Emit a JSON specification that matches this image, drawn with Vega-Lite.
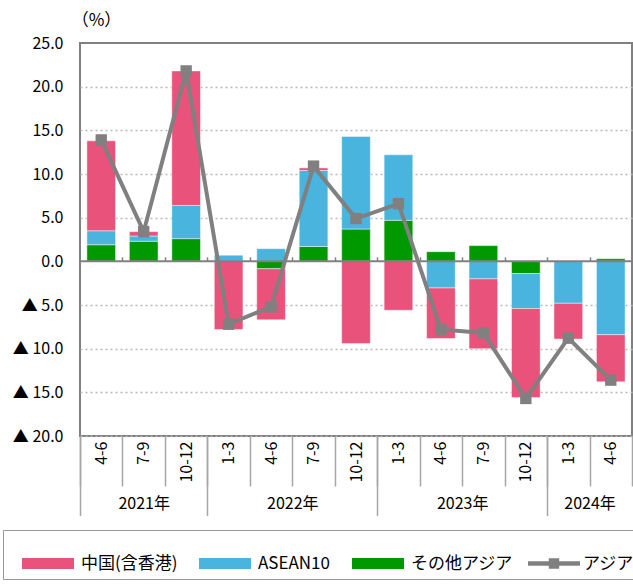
{
  "$schema": "https://vega.github.io/schema/vega-lite/v6.json",
  "width": 552,
  "height": 393,
  "autosize": {"type": "none"},
  "padding": {"left": 80, "top": 43, "right": 1, "bottom": 149},
  "config": {
    "font": "Noto Sans CJK JP",
    "view": {"stroke": "#808080", "strokeWidth": 2},
    "axis": {"labelFont": "Noto Sans CJK JP", "labelFontSize": 16, "labelColor": "#000000", "titleFont": "Noto Sans CJK JP"},
    "legend": {"labelFont": "Noto Sans CJK JP"},
    "point": {"shape": "square"}
  },
  "datasets": {
    "bars": [
      {"q": "2021|4-6", "series": "その他アジア", "ord": 1, "v": 1.9},
      {"q": "2021|4-6", "series": "ASEAN10", "ord": 2, "v": 1.6},
      {"q": "2021|4-6", "series": "中国(含香港)", "ord": 3, "v": 10.3},
      {"q": "2021|7-9", "series": "その他アジア", "ord": 1, "v": 2.3},
      {"q": "2021|7-9", "series": "ASEAN10", "ord": 2, "v": 0.6},
      {"q": "2021|7-9", "series": "中国(含香港)", "ord": 3, "v": 0.5},
      {"q": "2021|10-12", "series": "その他アジア", "ord": 1, "v": 2.6},
      {"q": "2021|10-12", "series": "ASEAN10", "ord": 2, "v": 3.8},
      {"q": "2021|10-12", "series": "中国(含香港)", "ord": 3, "v": 15.4},
      {"q": "2022|1-3", "series": "その他アジア", "ord": 1, "v": 0.0},
      {"q": "2022|1-3", "series": "ASEAN10", "ord": 2, "v": 0.7},
      {"q": "2022|1-3", "series": "中国(含香港)", "ord": 3, "v": -7.8},
      {"q": "2022|4-6", "series": "その他アジア", "ord": 1, "v": -0.85},
      {"q": "2022|4-6", "series": "ASEAN10", "ord": 2, "v": 1.45},
      {"q": "2022|4-6", "series": "中国(含香港)", "ord": 3, "v": -5.85},
      {"q": "2022|7-9", "series": "その他アジア", "ord": 1, "v": 1.7},
      {"q": "2022|7-9", "series": "ASEAN10", "ord": 2, "v": 8.7},
      {"q": "2022|7-9", "series": "中国(含香港)", "ord": 3, "v": 0.3},
      {"q": "2022|10-12", "series": "その他アジア", "ord": 1, "v": 3.7},
      {"q": "2022|10-12", "series": "ASEAN10", "ord": 2, "v": 10.6},
      {"q": "2022|10-12", "series": "中国(含香港)", "ord": 3, "v": -9.4},
      {"q": "2023|1-3", "series": "その他アジア", "ord": 1, "v": 4.7},
      {"q": "2023|1-3", "series": "ASEAN10", "ord": 2, "v": 7.5},
      {"q": "2023|1-3", "series": "中国(含香港)", "ord": 3, "v": -5.6},
      {"q": "2023|4-6", "series": "その他アジア", "ord": 1, "v": 1.1},
      {"q": "2023|4-6", "series": "ASEAN10", "ord": 2, "v": -3.05},
      {"q": "2023|4-6", "series": "中国(含香港)", "ord": 3, "v": -5.8},
      {"q": "2023|7-9", "series": "その他アジア", "ord": 1, "v": 1.8},
      {"q": "2023|7-9", "series": "ASEAN10", "ord": 2, "v": -2.0},
      {"q": "2023|7-9", "series": "中国(含香港)", "ord": 3, "v": -8.0},
      {"q": "2023|10-12", "series": "その他アジア", "ord": 1, "v": -1.4},
      {"q": "2023|10-12", "series": "ASEAN10", "ord": 2, "v": -4.0},
      {"q": "2023|10-12", "series": "中国(含香港)", "ord": 3, "v": -10.2},
      {"q": "2024|1-3", "series": "その他アジア", "ord": 1, "v": 0.0},
      {"q": "2024|1-3", "series": "ASEAN10", "ord": 2, "v": -4.8},
      {"q": "2024|1-3", "series": "中国(含香港)", "ord": 3, "v": -4.1},
      {"q": "2024|4-6", "series": "その他アジア", "ord": 1, "v": 0.3},
      {"q": "2024|4-6", "series": "ASEAN10", "ord": 2, "v": -8.4},
      {"q": "2024|4-6", "series": "中国(含香港)", "ord": 3, "v": -5.4}
    ],
    "line": [
      {"q": "2021|4-6", "v": 13.9, "s": "アジア"},
      {"q": "2021|7-9", "v": 3.4, "s": "アジア"},
      {"q": "2021|10-12", "v": 21.8, "s": "アジア"},
      {"q": "2022|1-3", "v": -7.2, "s": "アジア"},
      {"q": "2022|4-6", "v": -5.2, "s": "アジア"},
      {"q": "2022|7-9", "v": 10.9, "s": "アジア"},
      {"q": "2022|10-12", "v": 4.9, "s": "アジア"},
      {"q": "2023|1-3", "v": 6.6, "s": "アジア"},
      {"q": "2023|4-6", "v": -7.8, "s": "アジア"},
      {"q": "2023|7-9", "v": -8.2, "s": "アジア"},
      {"q": "2023|10-12", "v": -15.7, "s": "アジア"},
      {"q": "2024|1-3", "v": -8.8, "s": "アジア"},
      {"q": "2024|4-6", "v": -13.6, "s": "アジア"}
    ],
    "yearBounds": [{"b": 0}, {"b": 13}]
  },
  "layer": [
    {
      "layer": [
        {
          "data": {"name": "bars"},
          "mark": {"type": "bar", "width": {"band": 0.675}, "stroke": "white", "strokeWidth": 1, "strokeOpacity": 0.45},
          "encoding": {
            "x": {
              "field": "q",
              "type": "nominal",
              "scale": {
                "domain": ["2021|4-6", "2021|7-9", "2021|10-12", "2022|1-3", "2022|4-6", "2022|7-9", "2022|10-12", "2023|1-3", "2023|4-6", "2023|7-9", "2023|10-12", "2024|1-3", "2024|4-6"],
                "paddingInner": 0,
                "paddingOuter": 0
              },
              "axis": {
                "orient": "bottom",
                "title": null,
                "labelExpr": "split(datum.value, '|')[1]",
                "labelAngle": -90,
                "labelAlign": "right",
                "labelBaseline": "middle",
                "labelFontSize": 16,
                "labelPadding": -45,
                "tickBand": "extent",
                "tickSize": 50,
                "tickColor": "#a6a6a6",
                "tickWidth": 1.5,
                "domain": false,
                "grid": false
              }
            },
            "y": {
              "field": "v",
              "type": "quantitative",
              "stack": "zero",
              "scale": {"domain": [-20, 25], "nice": false},
              "axis": {
                "values": [-20, -15, -10, -5, 0, 5, 10, 15, 20, 25],
                "labelExpr": "datum.value < 0 ? '▲ ' + format(-datum.value, '.1f') : format(datum.value, '.1f')",
                "ticks": false,
                "domain": false,
                "labelPadding": 17,
                "labelFontSize": 16,
                "grid": true,
                "gridDash": [2, 3],
                "gridWidth": 1.5,
                "gridColor": {"condition": {"test": "datum.value == 0 || datum.value == 25", "value": "transparent"}, "value": "#b8b8b8"},
                "title": "（%）",
                "titleFont": "Noto Sans CJK JP",
                "titleAngle": 0,
                "titleX": 16,
                "titleY": -23,
                "titleFontSize": 17,
                "titleFontWeight": "normal",
                "titleAlign": "center",
                "titleBaseline": "middle",
                "titleColor": "#000000"
              }
            },
            "color": {
              "field": "series",
              "type": "nominal",
              "scale": {
                "domain": ["中国(含香港)", "ASEAN10", "その他アジア"],
                "range": ["#e8527b", "#49b4de", "#009900"]
              },
              "legend": {
                "orient": "none",
                "legendX": -77,
                "legendY": 490,
                "direction": "horizontal",
                "columns": 3,
                "title": null,
                "symbolType": "M-1,-0.21H1V0.21H-1Z",
                "symbolSize": 2704,
                "symbolOffset": 14.5,
                "labelOffset": 7,
                "labelFontSize": 17,
                "labelColor": "#000000",
                "columnPadding": 7,
                "padding": 4.5,
                "symbolStrokeWidth": 0,
                "symbolOpacity": 1
              }
            },
            "order": {"field": "ord", "type": "quantitative"}
          }
        },
        {
          "data": {"values": [{}]},
          "mark": {"type": "rule", "color": "#808080", "strokeWidth": 2},
          "encoding": {"y": {"datum": 0}}
        },
        {
          "data": {"name": "line"},
          "mark": {"type": "line", "strokeWidth": 4, "color": "#808080"},
          "encoding": {
            "x": {"field": "q", "type": "nominal"},
            "y": {"field": "v", "type": "quantitative"}
          }
        },
        {
          "data": {"name": "line"},
          "mark": {"type": "point", "filled": true, "size": 130, "opacity": 1, "strokeWidth": 0},
          "encoding": {
            "x": {"field": "q", "type": "nominal"},
            "y": {"field": "v", "type": "quantitative"},
            "color": {
              "field": "s",
              "type": "nominal",
              "scale": {"domain": ["アジア"], "range": ["#808080"]},
              "legend": {
                "orient": "none",
                "legendX": -77,
                "legendY": 487,
                "title": null,
                "symbolType": "M-1,-0.09H1V0.09H-1Z M-0.2,-0.2H0.2V0.2H-0.2Z",
                "symbolSize": 2704,
                "symbolOffset": 517.5,
                "labelOffset": 3,
                "labelFontSize": 17,
                "labelColor": "#000000",
                "padding": 7.5,
                "strokeColor": "#999999",
                "symbolStrokeWidth": 0,
                "symbolOpacity": 1
              }
            }
          }
        }
      ],
      "resolve": {"scale": {"color": "independent"}}
    },
    {
      "data": {"name": "yearBounds"},
      "mark": {"type": "rule", "opacity": 0},
      "encoding": {
        "x": {
          "field": "b",
          "type": "quantitative",
          "scale": {"domain": [0, 13], "nice": false, "zero": false},
          "axis": {
            "orient": "bottom",
            "title": null,
            "values": [0, 1.5, 3, 5, 7, 9, 11, 12],
            "labelExpr": "datum.value == 1.5 ? '2021年' : datum.value == 5 ? '2022年' : datum.value == 9 ? '2023年' : datum.value == 12 ? '2024年' : ''",
            "tickSize": 79.5,
            "tickWidth": 1.5,
            "tickColor": {"condition": {"test": "indexof([1.5, 5, 9, 12], datum.value) >= 0", "value": "transparent"}, "value": "#a6a6a6"},
            "labelPadding": -20.5,
            "labelFontSize": 16,
            "labelFlush": false,
            "labelOverlap": false,
            "domain": false,
            "grid": false
          }
        }
      }
    },
    {
      "data": {"name": "yearBounds"},
      "mark": {"type": "rule", "opacity": 0},
      "encoding": {
        "x": {
          "field": "b",
          "type": "quantitative",
          "scale": {"domain": [0, 13], "nice": false, "zero": false},
          "axis": {
            "orient": "top",
            "offset": -218.33,
            "title": null,
            "values": [1, 2, 3, 4, 5, 6, 7, 8, 9, 10, 11, 12],
            "labels": false,
            "tickSize": 4.5,
            "tickWidth": 1.5,
            "tickColor": "#808080",
            "domain": false,
            "grid": false
          }
        }
      }
    }
  ],
  "resolve": {"scale": {"x": "independent"}}
}
